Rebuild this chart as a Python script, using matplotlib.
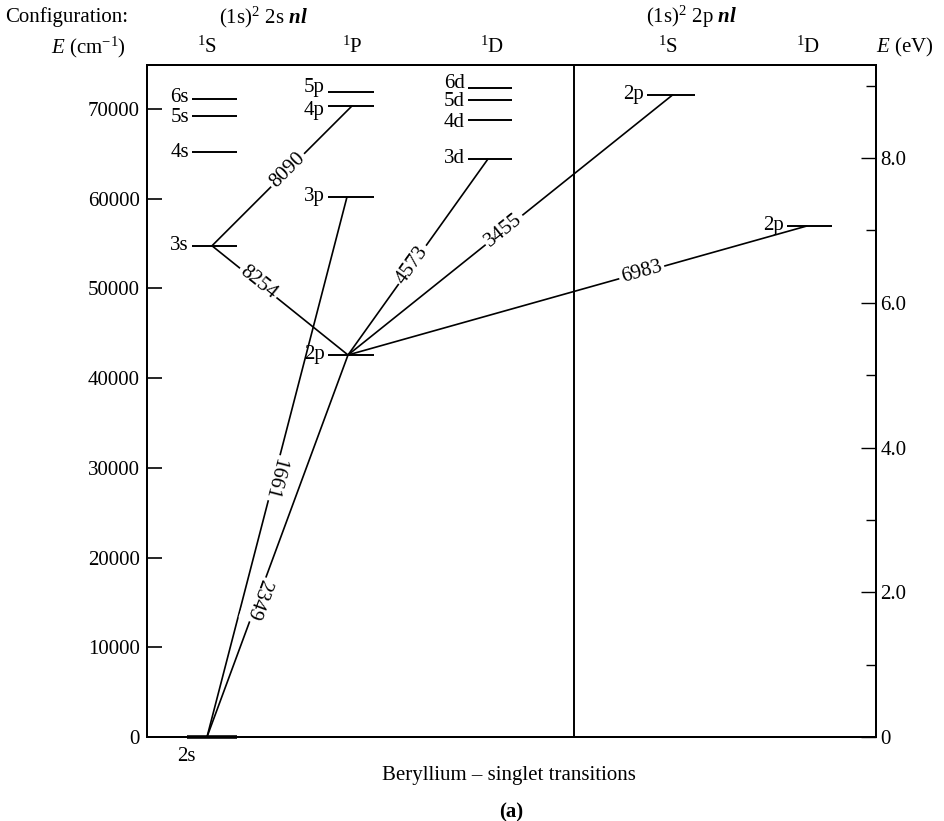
import numpy as np
import matplotlib
matplotlib.use("Agg")
import matplotlib.pyplot as plt

plt.rcParams.update({
    "font.family": ["Liberation Serif", "DejaVu Serif"],
    "mathtext.fontset": "custom",
    "mathtext.rm": "Liberation Serif",
    "mathtext.it": "Liberation Serif:italic",
    "mathtext.bf": "Liberation Serif:bold",
    "mathtext.bfit": "Liberation Serif:italic:bold",
})

# ---------------- data (energies in cm^-1) ----------------
S_terms = ["2s", "3s", "4s", "5s", "6s"]
S_energy = [0, 54750, 65180, 69220, 71090]
P_terms = ["2p", "3p", "4p", "5p"]
P_energy = [42580, 60200, 70340, 71900]
D_terms = ["3d", "4d", "5d", "6d"]
D_energy = [64430, 68780, 71010, 72380]
S2_terms = ["2p"]
S2_energy = [71600]
D2_terms = ["2p"]
D2_energy = [56960]

trans_lower = ["S:2s", "S:2s", "P:2p", "S:3s", "P:2p", "P:2p", "P:2p"]
trans_upper = ["P:2p", "P:3p", "S:3s", "P:4p", "D:3d", "S2:2p", "D2:2p"]
trans_wavelength = ["2349", "1661", "8254", "8090", "4573", "3455", "6983"]

cm_ticks = [0, 10000, 20000, 30000, 40000, 50000, 60000, 70000]
ev_major = [0, 2, 4, 6, 8]
ev_major_labels = ["0", "2.0", "4.0", "6.0", "8.0"]
ev_minor = [1, 3, 5, 7, 9]
CM_PER_EV = 8065.54

# ---------------- layout ----------------
W, H = 944, 821
fig = plt.figure(figsize=(W / 100, H / 100), dpi=100)
L, R, T, B = 147, 876, 65, 737
ax = fig.add_axes([L / W, 1 - B / H, (R - L) / W, (B - T) / H])
YMAX = 74900
PX = YMAX / (B - T)          # data units per pixel (vertical)
ax.set_xlim(0, R - L)
ax.set_ylim(0, YMAX)

col_span = {"S": (45, 90), "P": (181, 227), "D": (321, 365),
            "S2": (500, 548), "D2": (640, 685)}
attach = {"S:2s": 60, "S:3s": 65, "P:2p": 201, "P:3p": 200, "P:4p": 205,
          "D:3d": 341, "S2:2p": 526, "D2:2p": 660}
# vertical nudges (pixels, + = up) for crowded level labels
label_nudge = {"S:6s": 2, "S:5s": -2, "P:5p": 4, "P:4p": -5,
               "D:6d": 4, "D:5d": -2, "D:4d": -3}
label_frac = [0.36, 0.48, 0.66, 0.54, 0.46, 0.48, 0.64]
label_flip = [True, True, False, False, False, False, False]

FS = 15
LW = 1.4

levels = {}
for col, terms, energies in [("S", S_terms, S_energy), ("P", P_terms, P_energy),
                             ("D", D_terms, D_energy), ("S2", S2_terms, S2_energy),
                             ("D2", D2_terms, D2_energy)]:
    x0, x1 = col_span[col]
    for t, e in zip(terms, energies):
        key = f"{col}:{t}"
        levels[key] = e
        if e == 0:
            ax.plot([x0 - 5, x1], [e, e], color="k", lw=2.6, clip_on=False,
                    solid_capstyle="butt")
            ax.annotate(t, xy=(x0 - 6, 0), xytext=(0, -14), textcoords="offset points",
                        ha="center", va="center", fontsize=FS)
        else:
            ax.plot([x0, x1], [e, e], color="k", lw=LW, solid_capstyle="butt")
            ax.text(x0 - 3, e + label_nudge.get(key, 0) * PX, t, ha="right",
                    va="center", fontsize=FS)

# vertical divider
ax.axvline(427, color="k", lw=LW)

fig.canvas.draw()
for lo, up, wl, fr, flip in zip(trans_lower, trans_upper, trans_wavelength,
                                label_frac, label_flip):
    xa, ya = attach[lo], levels[lo]
    xb, yb = attach[up], levels[up]
    ax.plot([xa, xb], [ya, yb], color="k", lw=1.2, solid_capstyle="butt")
    pa = ax.transData.transform((xa, ya))
    pb = ax.transData.transform((xb, yb))
    ang = np.degrees(np.arctan2(pb[1] - pa[1], pb[0] - pa[0]))
    if ang > 90:
        ang -= 180
    elif ang < -90:
        ang += 180
    if flip:
        ang -= 180
    xm = xa + fr * (xb - xa)
    ym = ya + fr * (yb - ya)
    ax.text(xm, ym, wl, rotation=ang, rotation_mode="anchor", ha="center",
            va="center", fontsize=FS,
            bbox=dict(boxstyle="square,pad=0.12", fc="white", ec="none"))

# left axis
ax.set_xticks([])
ax.set_yticks(cm_ticks)
ax.set_yticklabels([str(v) for v in cm_ticks])
ax.tick_params(axis="y", direction="in", length=11, width=1.2, pad=5,
               labelsize=FS, left=True, right=False)
for s in ax.spines.values():
    s.set_linewidth(LW)

# right axis (eV)
ax2 = ax.twinx()
ax2.set_ylim(0, YMAX / CM_PER_EV)
ax2.set_yticks(ev_major)
ax2.set_yticklabels(ev_major_labels)
ax2.set_yticks(ev_minor, minor=True)
ax2.tick_params(axis="y", which="major", direction="in", length=11, width=1.0,
                pad=3, labelsize=FS)
ax2.tick_params(axis="y", which="minor", direction="in", length=7, width=1.0)
for s in ax2.spines.values():
    s.set_linewidth(LW)

# header texts
def ftext(xpx, ypx, s, **kw):
    fig.text(xpx / W, 1 - ypx / H, s, fontsize=FS, va="center", **kw)

ftext(5, 17, "Configuration:", ha="left")
ftext(263, 17, r"(1s)$^2$ 2s $\mathbfit{nl}$", ha="center")
ftext(692, 17, r"(1s)$^2$ 2p $\mathbfit{nl}$", ha="center")
ftext(88, 47, r"$\mathit{E}$ (cm$^{-1}$)", ha="center")
ftext(905, 47, r"$\mathit{E}$ (eV)", ha="center")
for xpx, lab in [(207, "S"), (352, "P"), (492, "D"), (668, "S"), (808, "D")]:
    ftext(xpx, 47, r"$^{1}$" + lab, ha="center")

ftext(509, 775, "Beryllium \u2013 singlet transitions", ha="center")
ftext(511, 812, "(a)", ha="center", fontweight="bold")

fig.savefig("out.png", dpi=100)
